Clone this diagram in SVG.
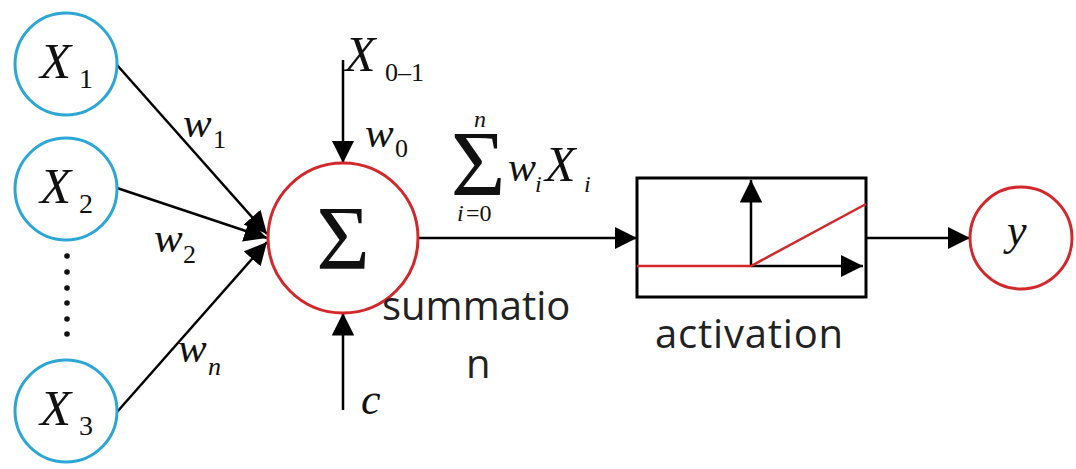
<svg xmlns="http://www.w3.org/2000/svg" width="1076" height="469" viewBox="0 0 1076 469">
<style>
.in{fill:#fff;stroke:#2ba6d5;stroke-width:3}
.red{fill:#fff;stroke:#d3282b;stroke-width:3}
.ln{stroke:#000;stroke-width:2.5;fill:none}
.m{font-family:"Liberation Serif",serif;font-style:italic;fill:#111}
.r{font-family:"Liberation Serif",serif;fill:#111}
.s{font-family:"Open Sans",sans-serif;fill:#222;font-size:40px}
</style>
<defs>
<marker id="ah" viewBox="0 0 10 10" refX="10" refY="5" markerWidth="9" markerHeight="9" markerUnits="strokeWidth" orient="auto">
<path d="M0,0 L10,5 L0,10 Z" fill="#000"/>
</marker>
</defs>
<rect width="1076" height="469" fill="#fff"/>
<g id="connectors">
<line class="ln" x1="117" y1="65" x2="267" y2="234" marker-end="url(#ah)"/>
<line class="ln" x1="117" y1="188" x2="267" y2="238" marker-end="url(#ah)"/>
<line class="ln" x1="117" y1="412" x2="267" y2="242" marker-end="url(#ah)"/>
<line class="ln" x1="343" y1="60" x2="343" y2="163" marker-end="url(#ah)"/>
<line class="ln" x1="343" y1="410" x2="343" y2="313" marker-end="url(#ah)"/>
<line class="ln" x1="418" y1="238" x2="637" y2="238" marker-end="url(#ah)"/>
<line class="ln" x1="866" y1="238" x2="970" y2="238" marker-end="url(#ah)"/>
</g>
<g id="x1"><circle class="in" cx="66" cy="64" r="51"/>
<text class="m" x="40" y="78" font-size="51">X</text><text class="r" x="79" y="88" font-size="28">1</text></g>
<g id="x2"><circle class="in" cx="66" cy="189" r="51"/>
<text class="m" x="40" y="203" font-size="51">X</text><text class="r" x="79" y="213" font-size="28">2</text></g>
<g id="dots" fill="#111">
<circle cx="67" cy="256" r="2.8"/><circle cx="67" cy="272" r="2.8"/><circle cx="67" cy="288" r="2.8"/><circle cx="67" cy="303" r="2.8"/><circle cx="67" cy="319" r="2.8"/><circle cx="67" cy="334" r="2.8"/>
</g>
<g id="x3"><circle class="in" cx="66" cy="411" r="51"/>
<text class="m" x="40" y="425" font-size="51">X</text><text class="r" x="79" y="435" font-size="28">3</text></g>
<g id="weights">
<text class="m" x="183" y="137" font-size="43">w</text><text class="r" x="213" y="148" font-size="26">1</text>
<text class="m" x="154" y="252" font-size="43">w</text><text class="r" x="183" y="263" font-size="26">2</text>
<text class="m" x="178" y="362" font-size="43">w</text><text class="m" x="208" y="375" font-size="26">n</text>
</g>
<g id="bias-top">
<text class="m" x="345" y="71" font-size="50">X</text><text class="r" x="385" y="81" font-size="26">0–1</text>
<text class="m" x="365" y="147" font-size="43">w</text><text class="r" x="395" y="157" font-size="26">0</text>
</g>
<g id="bias-bottom"><text class="m" x="361" y="414" font-size="44">c</text></g>
<g id="sum"><circle class="red" cx="343" cy="238" r="75"/>
<text class="r" x="343" y="269" font-size="92" text-anchor="middle">Σ</text>
<text class="s" x="382" y="320">summatio</text>
<text class="s" x="466" y="378">n</text>
</g>
<g id="formula">
<text class="m" x="474" y="127" font-size="24">n</text>
<text class="r" x="478" y="195" font-size="94" text-anchor="middle">Σ</text>
<text class="m" x="457" y="221" font-size="24">i</text><text class="r" x="466" y="221" font-size="24">=0</text>
<text class="m" x="508" y="181" font-size="42">w</text><text class="m" x="535" y="192" font-size="24">i</text>
<text class="m" x="545" y="181" font-size="50">X</text><text class="m" x="584" y="192" font-size="24">i</text>
</g>
<g id="activation">
<rect x="637" y="178" width="229" height="119" fill="none" stroke="#000" stroke-width="3"/>
<line class="ln" x1="751" y1="266" x2="751" y2="180" marker-end="url(#ah)"/>
<line class="ln" x1="751" y1="266" x2="863" y2="266" marker-end="url(#ah)"/>
<polyline points="637,266 751,266 866,204" fill="none" stroke="#d3282b" stroke-width="2.5"/>
<text class="s" x="655" y="348" textLength="188">activation</text>
</g>
<g id="output"><circle class="red" cx="1021" cy="238" r="51"/>
<text class="m" x="1007" y="245" font-size="44">y</text></g>
</svg>
